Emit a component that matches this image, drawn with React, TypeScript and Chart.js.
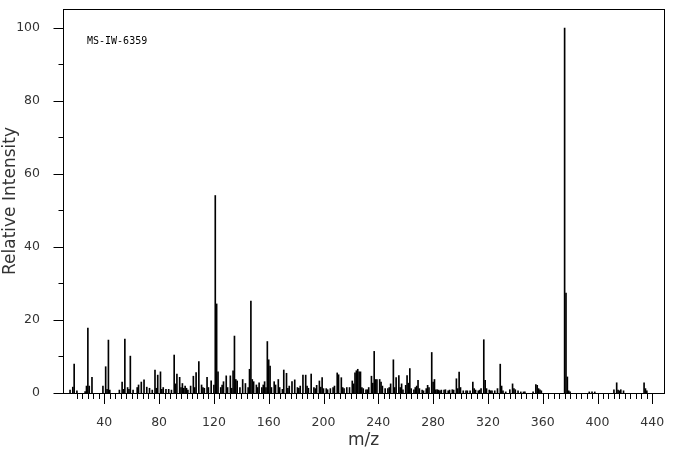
import React, { useEffect, useRef } from "react";
import { Chart, registerables } from "chart.js";

Chart.register(...registerables);

const massValues: number[] = [
  15, 17, 18, 20, 26, 27, 28, 29, 31, 39, 41, 42, 43, 44, 51, 53, 54, 55, 57, 58, 59, 61, 64, 65, 67, 69, 71, 73, 75, 77, 78, 79, 81, 82, 83, 85, 87, 89, 91, 92, 93, 95, 96, 97, 98, 99, 100,
  101, 103, 105, 106, 107, 109, 111, 112, 113, 115, 116, 118, 120, 121, 122, 123, 125, 126, 127, 129, 130, 132, 133, 134, 135, 136, 137, 139, 141, 143, 145, 146, 147, 148, 149, 151, 152, 153, 155, 156, 157, 158, 159, 160, 161, 162, 164, 165, 167, 168, 170, 171, 173, 174, 175, 177, 179, 181, 182, 183, 185, 187, 188, 189, 191, 193,
  194, 195, 197, 198, 199, 200, 202, 203, 205, 207, 208, 210, 211, 213, 214, 215, 217, 219, 221, 222, 223, 224, 225, 226, 227, 228, 229, 231, 232, 233, 235, 236, 237, 238, 239, 241, 242, 243, 245, 247, 248, 249, 251, 252, 253, 255, 256, 257, 258, 260, 261, 262, 263, 264, 266, 267, 268, 269, 270, 272, 273, 275, 276, 277, 279, 280, 281, 282, 283, 284,
  285, 286, 288, 289, 291, 292, 294, 295, 297, 298, 299, 300, 302, 304, 305, 307, 309, 310, 311, 313, 314, 315, 317, 318, 319, 321, 322, 323, 325, 327, 329, 330, 331, 333, 336, 338, 339, 340, 342, 344, 346, 347, 353, 355, 356, 357, 358, 359,
  376, 377, 378, 379, 380, 394, 396, 398, 412, 414, 415, 416, 417, 419, 434, 435, 436,
];

const intensityValues: number[] = [
  0.8, 1.6, 7.9, 0.6, 0.4, 1.9, 17.8, 1.9, 4.3, 1.9, 7.2, 1.0, 14.5, 0.8, 0.8, 3.0, 1.0, 14.8, 1.5, 1.0, 10.1, 0.8, 1.5, 2.2, 3.0, 3.6, 1.6, 1.3, 0.8, 6.3, 1.3, 4.9, 5.8, 1.0, 1.5, 1.0, 1.0, 0.8, 10.4, 2.5, 5.2, 4.3, 1.5, 2.6, 1.3, 1.9, 1.3,
  0.8, 1.9, 4.6, 1.5, 5.6, 8.6, 2.2, 1.5, 1.3, 4.3, 1.5, 3.3, 2.2, 54.1, 24.4, 5.8, 1.5, 2.2, 3.1, 4.7, 1.5, 4.7, 1.3, 6.1, 15.6, 3.7, 3.3, 1.5, 3.7, 2.6, 1.5, 6.5, 25.2, 3.7, 3.1, 2.2, 1.5, 2.8, 1.5, 2.2, 3.1, 1.5, 14.1, 9.1, 7.4, 1.5, 3.1, 2.2, 3.7, 1.5, 1.0, 6.3, 5.4, 1.3, 1.9, 3.1, 3.6, 1.5, 1.3, 1.9, 4.9, 4.9, 1.9, 1.3, 5.2, 1.5,
  1.2, 2.1, 3.3, 1.6, 4.2, 1.2, 1.2, 0.9, 1.2, 1.5, 1.9, 5.5, 5.0, 4.2, 1.5, 1.2, 1.5, 1.5, 3.3, 2.5, 5.5, 6.1, 6.5, 5.8, 5.8, 1.5, 1.2, 0.9, 0.9, 1.5, 4.6, 2.7, 11.4, 3.7, 3.7, 3.7, 3.0, 1.9, 1.2, 1.2, 1.5, 2.5, 9.1, 1.5, 4.2, 4.8, 1.5, 2.5, 0.9, 2.1, 4.8, 2.7, 6.7, 1.2, 0.9, 1.5, 1.9, 3.5, 1.2, 0.8, 0.6, 1.2, 2.1, 1.5, 11.1, 3.0, 3.7, 0.9, 0.9, 0.8,
  0.6, 0.8, 0.8, 0.9, 0.6, 0.8, 0.9, 0.8, 3.9, 1.2, 5.7, 1.5, 0.6, 0.6, 0.6, 0.6, 3.0, 1.2, 0.8, 0.6, 0.8, 1.2, 14.6, 3.5, 1.2, 0.8, 0.6, 0.6, 0.6, 1.2, 7.9, 1.9, 0.6, 0.3, 0.9, 2.5, 1.2, 0.9, 0.6, 0.3, 0.3, 0.3, 0.3, 2.3, 2.1, 1.2, 0.9, 0.6,
  100, 27.4, 4.4, 0.6, 0.3, 0.3, 0.3, 0.3, 0.9, 2.8, 0.8, 0.6, 0.9, 0.6, 2.8, 1.2, 0.6,
];

const xTickLabels: number[] = [40, 80, 120, 160, 200, 240, 280, 320, 360, 400, 440];
const yTickLabels: number[] = [0, 20, 40, 60, 80, 100];
const sampleLabel = "MS-IW-6359";
const xTitle = "m/z";
const yTitle = "Relative Intensity";

const labelFont = { family: "DejaVu Sans", size: 12.5 };
const textColor = "#333";

const framePlugin = {
  id: "frame",
  afterDraw(chart: any) {
    const { ctx, chartArea, scales } = chart;
    const x = scales.x;
    const y = scales.y;
    ctx.save();
    ctx.strokeStyle = "#000";
    ctx.lineWidth = 1;
    ctx.strokeRect(
      chartArea.left + 0.5,
      chartArea.top + 0.5,
      chartArea.right - chartArea.left,
      chartArea.bottom - chartArea.top
    );
    ctx.beginPath();
    for (let v = 20; v <= 440; v += 4) {
      const px = Math.round(x.getPixelForValue(v)) + 0.5;
      const len = v % 40 === 0 ? 11 : 6;
      ctx.moveTo(px, chartArea.bottom);
      ctx.lineTo(px, chartArea.bottom + len);
    }
    for (let v = 0; v <= 100; v += 10) {
      const py = Math.round(y.getPixelForValue(v)) + 0.5;
      const len = v % 20 === 0 ? 10 : 5;
      ctx.moveTo(chartArea.left + 0.5, py);
      ctx.lineTo(chartArea.left + 0.5 - len, py);
    }
    ctx.stroke();
    ctx.fillStyle = "#000";
    ctx.font = "10px 'DejaVu Sans Mono'";
    ctx.textBaseline = "middle";
    ctx.textAlign = "left";
    ctx.fillText(sampleLabel, 87, 41);
    ctx.restore();
  },
};

export default function App() {
  const ref = useRef<HTMLCanvasElement | null>(null);
  useEffect(() => {
    if (!ref.current) return;
    const data = massValues.map((m, i) => ({ x: m, y: intensityValues[i] }));
    const chart = new Chart(ref.current, {
      type: "bar",
      data: {
        datasets: [
          {
            data,
            backgroundColor: "#000",
            borderWidth: 0,
            barThickness: 1,
            grouped: false,
          } as any,
        ],
      },
      options: {
        animation: false,
        responsive: false,
        devicePixelRatio: 1,
        layout: { padding: { top: 9, right: 12, left: 0, bottom: 0 } },
        plugins: { legend: { display: false }, tooltip: { enabled: false } },
        scales: {
          x: {
            type: "linear",
            offset: false,
            min: 9.85,
            max: 448.54,
            grid: { display: false, offset: false },
            border: { display: false },
            afterBuildTicks: (s: any) => {
              s.ticks = xTickLabels.map((v) => ({ value: v }));
            },
            afterFit: (s: any) => {
              s.height = 62;
              s.paddingLeft = 0;
              s.paddingRight = 0;
            },
            ticks: {
              font: labelFont,
              color: textColor,
              padding: 14,
              maxRotation: 0,
              autoSkip: false,
            },
            title: {
              display: true,
              text: xTitle,
              font: { family: "DejaVu Sans", size: 17 },
              color: textColor,
              padding: { top: 0, bottom: 4 },
            },
          },
          y: {
            type: "linear",
            min: 0,
            max: 105.2,
            grid: { display: false },
            border: { display: false },
            afterBuildTicks: (s: any) => {
              s.ticks = yTickLabels.map((v) => ({ value: v }));
            },
            afterFit: (s: any) => {
              s.width = 63;
              s.paddingTop = 0;
              s.paddingBottom = 0;
            },
            ticks: {
              font: labelFont,
              color: textColor,
              padding: 15,
              autoSkip: false,
            },
            title: {
              display: true,
              text: yTitle,
              font: { family: "DejaVu Sans", size: 17 },
              color: textColor,
              padding: { top: 0, bottom: 0 },
            },
          },
        },
      },
      plugins: [framePlugin],
    });
    return () => chart.destroy();
  }, []);
  return (
    <div style={{ position: "fixed", left: 0, top: 0, width: 676, height: 455, background: "#fff" }}>
      <canvas ref={ref} width={676} height={455} style={{ width: 676, height: 455, display: "block" }} />
    </div>
  );
}
